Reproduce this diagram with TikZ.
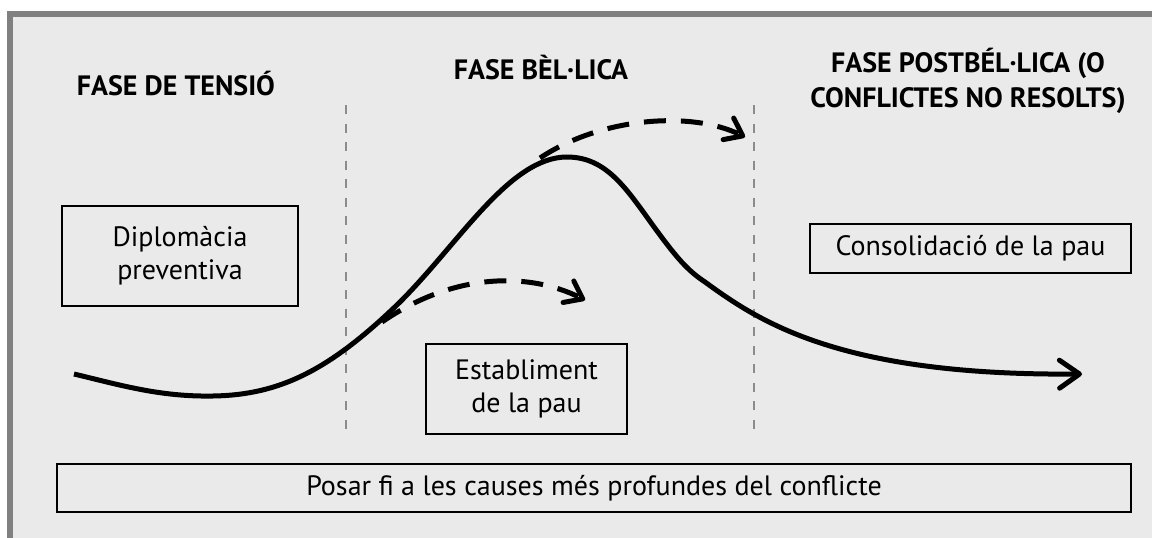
\documentclass[tikz,border=0pt]{standalone}
\usepackage{fontspec}
\setmainfont{PT Sans}
\usetikzlibrary{arrows.meta}
\usetikzlibrary{positioning}
\definecolor{fondo}{HTML}{EAEAEA}
\definecolor{marco}{HTML}{808080}
\definecolor{divisor}{HTML}{8C8C8C}
\tikzset{
  curva/.style={
    line width=5pt,
    -{Straight Barb[length=20pt,width=28pt,round]}
  },
  salto/.style={
    line width=5pt, dash pattern=on 22pt off 15pt,
    -{Straight Barb[length=16pt,width=24pt,round]}
  }
}

\begin{document}
\begin{tikzpicture}[x=1pt,y=-1pt,font=\fontsize{28}{33}\selectfont] % Estilos
\tikzstyle{fase} = [font=\fontsize{28}{35}\selectfont\bfseries, align=center, inner sep=0pt] \tikzstyle{caja} = [rectangle, draw, line width=2pt, align=center, inner sep=0pt] % Fondo y marco
\useasboundingbox (0,0) rectangle (1152,538);
\fill[fondo] (10,14) rectangle (1152,538);
\draw[marco, line width=6pt] (10,538) -- (10,14) -- (1152,14);
% Divisiones entre fases
\foreach \x in {346,754}{ \draw[divisor, line width=2pt, dash pattern=on 9pt off 9.5pt] (\x,105) -- (\x,433); }
% Titulos de las fases
\node (tension) [fase, anchor=base] at (176,95) {FASE DE TENSIÓ}; \node (belica) [fase, anchor=base] at (541,79) {FASE BÈL·LICA}; \node (postbelica) [fase, anchor=base] at (968,107) {FASE POSTBÉL·LICA (O\\CONFLICTES NO RESOLTS)};
% Cajas
\node (diplomacia) [caja, minimum width=236pt, minimum height=100pt] at (180,256) {Diplomàcia\\preventiva}; \node (establiment) [caja, minimum width=201pt, minimum height=90pt] at (526.5,389) {Establiment\\de la pau}; \node (consolidacio) [caja, minimum width=321pt, minimum height=49pt] at (970.5,248.5) {Consolidació de la pau}; \node (causes) [caja, minimum width=1074pt, minimum height=48pt] at (594,488) {Posar fi a les causes més profundes del conflicte};
% Curva del conflicto
\coordinate (inici) at (74,374); \coordinate (fi) at (1082,374);
\draw[curva] (inici) .. controls (120,385) and (160,397) .. (213,396) .. controls (280,395) and (330,370) .. (400,302) .. controls (460,242) and (510,157) .. (567,157) .. controls (610,157) and (630,195) .. (660,235) .. controls (680,262) and (690,272) .. (705,282) .. controls (760,322) and (840,376) .. (fi);
% Flechas discontinuas
\coordinate (s1) at (382,322); \coordinate (e1) at (585,300); \coordinate (s2) at (540,158); \coordinate (e2) at (745,137);
\draw[salto] (s1) .. controls (450,275) and (525,270) .. (e1);
\draw[salto] (s2) .. controls (600,118) and (690,110) .. (e2);
\end{tikzpicture}
\end{document}
